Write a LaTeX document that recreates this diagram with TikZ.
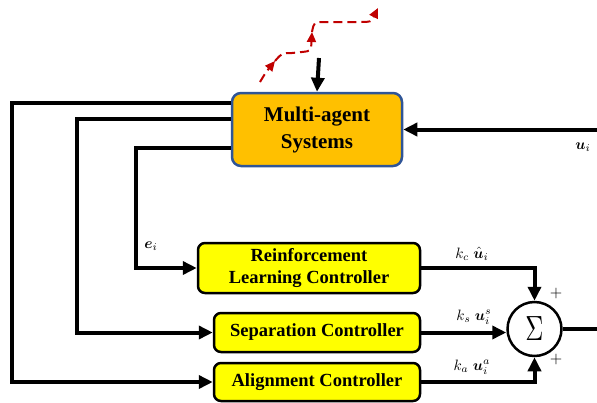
\documentclass[tikz,border=0pt]{standalone}
\usepackage{fontspec}
\setmainfont{Liberation Serif}
\usepackage{bm}
\usetikzlibrary{arrows.meta,calc}
\definecolor{masfill}{HTML}{FFC000}
\definecolor{masline}{HTML}{2F5597}
\definecolor{ctrlfill}{HTML}{FFFF00}
\definecolor{distred}{HTML}{C00000}
\newcommand{\biglbl}[1]{\scalebox{1.5}{$#1$}}
\tikzset{
  masbox/.style={draw=masline, fill=masfill, line width=2.5pt, rounded corners=9pt,
    inner sep=0pt, align=center, font=\fontsize{21}{27}\selectfont\bfseries},
  ctrlbox/.style={draw=black, fill=ctrlfill, line width=2.5pt, rounded corners=7pt,
    inner sep=0pt, align=center, font=\fontsize{18.5}{22}\selectfont\bfseries},
  sumnode/.style={draw=black, fill=white, circle, line width=2.5pt, minimum size=54pt, inner sep=0pt},
  sig/.style={line width=4pt, -{Triangle[length=14pt,width=13pt]}},
  plain/.style={line width=4pt},
  dist/.style={draw=distred, line width=2pt, dash pattern=on 9pt off 5pt,
    -{Triangle[length=10pt,width=9pt]}},
  lbl/.style={inner sep=0pt},
}
\begin{document}
\begin{tikzpicture}[x=1pt,y=-1pt]
\useasboundingbox (0,0) rectangle (597,402);

% blocks
\node[masbox, minimum width=170pt, minimum height=73pt] (mas) at (317,129.5) {Multi-agent\\Systems};
\node[ctrlbox, minimum width=222pt, minimum height=50pt] (rl) at (309,268) {Reinforcement\\Learning Controller};
\node[ctrlbox, minimum width=206pt, minimum height=39pt] (sep) at (317,332.5) {Separation Controller};
\node[ctrlbox, minimum width=206pt, minimum height=38pt] (ali) at (317,382) {Alignment Controller};
\node[sumnode] (sum) at (534.5,329) {\scalebox{2.5}[3.5]{$\Sigma$}};

% free ends
\coordinate (inp) at (319,58);
\coordinate (outR) at (597,329);
\coordinate (uR) at (597,129.5);

% external input and returned control
\draw[sig] (inp) -- (mas.north);
\draw[sig] (uR) -- (mas.east);
\draw[plain] (sum.east) -- (outR);

% feedback loops
\draw[sig] (mas.west |- 0,103) -- (12,103) |- (ali.west);
\draw[sig] (mas.west |- 0,119) -- (77,119) |- (sep.west);
\draw[sig] (mas.west |- 0,148) -- (136,148) |- (rl.west);

% controller outputs into the summing junction
\draw[sig] (rl.east) -| (sum.north);
\draw[sig] (sep.east) -- (sep.east -| sum.west);
\draw[sig] (ali.east) -| (sum.south);

% disturbance
\draw[dist] (260,82) .. controls (266,72) .. (275,61);
\draw[dist] (275,61) .. controls (282,53) .. (292,53) -- (302,52) .. controls (311,51) .. (312,32);
\draw[dist] (312,32) .. controls (314,22) .. (324,22) -- (360,22) .. controls (371,22) .. (378,8);

% labels
\node[lbl] (le) at (151,246) {\biglbl{\bm{e}_i}};
\node[lbl] (lc) at (472,254) {\biglbl{k_c\;\hat{\bm{u}}_i}};
\node[lbl] (ls) at (474,317) {\biglbl{k_s\;\bm{u}_i^s}};
\node[lbl] (la) at (472,367) {\biglbl{k_a\;\bm{u}_i^a}};
\node[lbl] (lu) at (583,147) {\biglbl{\bm{u}_i}};
\node[lbl] (pt) at (556,293) {\scalebox{1.6}{$+$}};
\node[lbl] (pb) at (556,359) {\scalebox{1.6}{$+$}};
\end{tikzpicture}
\end{document}
